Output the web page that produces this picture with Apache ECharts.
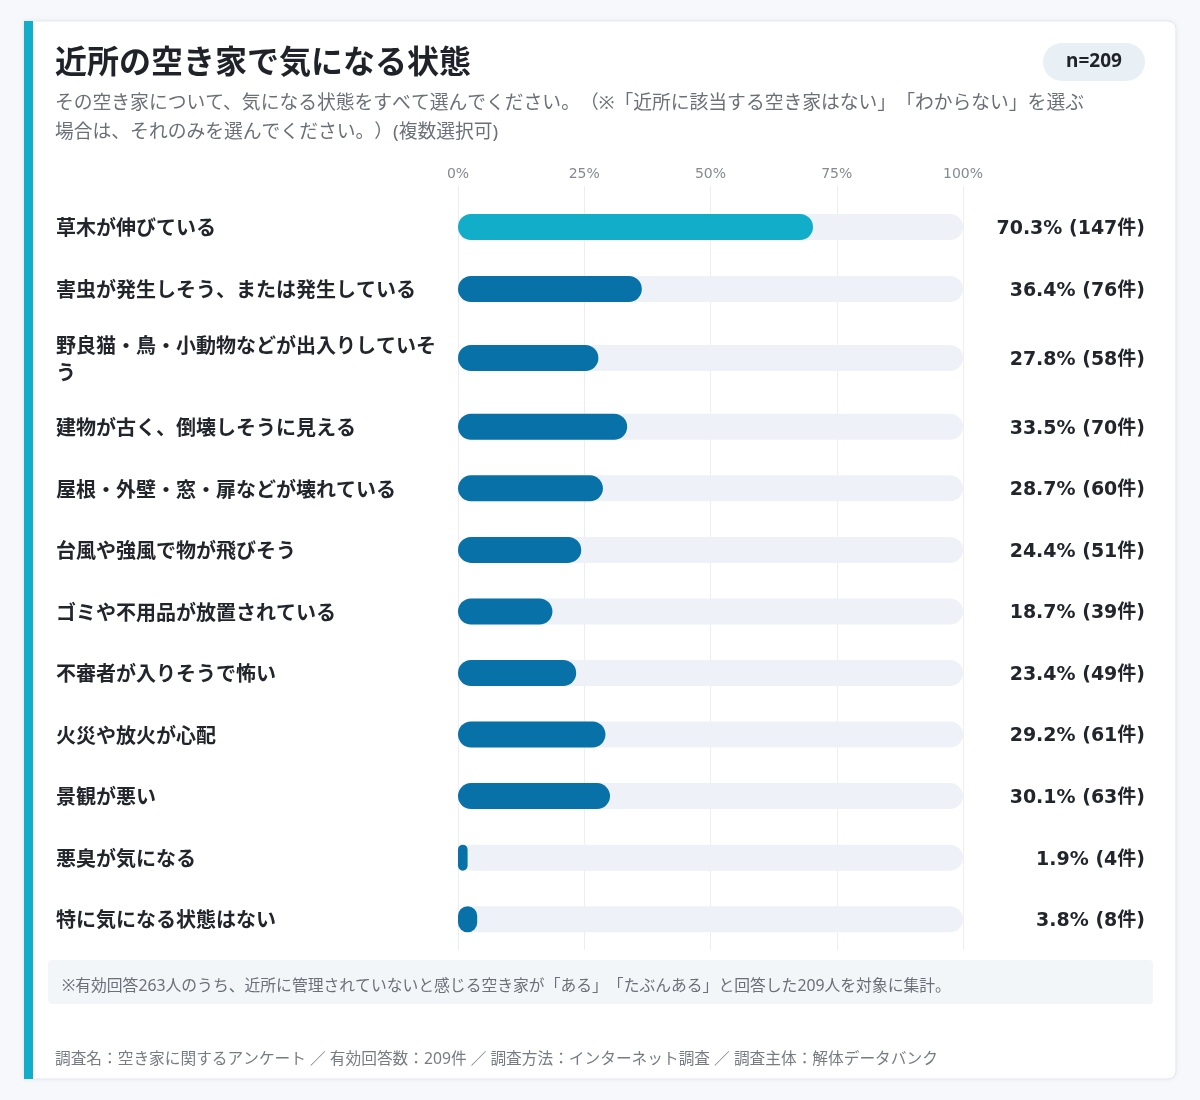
<!DOCTYPE html>
<html>
<head>
<meta charset="utf-8">
<script src="https://cdn.jsdelivr.net/npm/echarts@6/dist/echarts.min.js"></script>
<style>
	html, body { margin: 0; padding: 0; background: #f6f8fc; }
	#chart { width: 1200px; height: 1100px; }
</style>
</head>
<body>
<div id="chart"></div>
<script>
var categories = [ "草木が伸びている", "害虫が発生しそう、または発生している",
		"野良猫・鳥・小動物などが出入りしていそう", "建物が古く、倒壊しそうに見える",
		"屋根・外壁・窓・扉などが壊れている", "台風や強風で物が飛びそう",
		"ゴミや不用品が放置されている", "不審者が入りそうで怖い", "火災や放火が心配",
		"景観が悪い", "悪臭が気になる", "特に気になる状態はない" ];
var percents = [ 70.3, 36.4, 27.8, 33.5, 28.7, 24.4, 18.7, 23.4, 29.2, 30.1, 1.9, 3.8 ];
var counts = [ 147, 76, 58, 70, 60, 51, 39, 49, 61, 63, 4, 8 ];
var tickValues = [ 0, 25, 50, 75, 100 ];

(function() {
	var font = '"Noto Sans", "Noto Sans CJK JP", sans-serif';
	var numFont = '"DejaVu Sans", "Noto Sans CJK JP", sans-serif';
	var chart = echarts.init(document.getElementById('chart'));

	var valueLabels = percents.map(function(p, i) {
		return p.toFixed(1) + '% (' + counts[i] + '件)';
	});

	// the wrapped row is taller, so rows are split in three stacked grids
	var blocks = [ { from : 0, to : 2, top : 196, height : 124 },
			{ from : 2, to : 3, top : 320, height : 76 },
			{ from : 3, to : 12, top : 396, height : 554 } ];

	var grids = [], xAxes = [], yAxes = [], series = [];
	blocks.forEach(function(b, k) {
		grids.push({
			left : 458,
			right : 237,
			top : b.top,
			height : b.height
		});
		xAxes.push({
			type : 'value',
			gridIndex : k,
			position : 'top',
			min : tickValues[0],
			max : tickValues[tickValues.length - 1],
			interval : 25,
			axisLine : { show : false },
			axisTick : {
				show : k === 0,
				length : 10,
				lineStyle : { color : '#eceef2' }
			},
			axisLabel : {
				show : k === 0,
				formatter : '{value}%',
				fontFamily : numFont,
				color : '#858991',
				fontSize : 14,
				margin : 15
			},
			splitLine : {
				lineStyle : { color : '#eceef2', width : 1 }
			}
		});
		yAxes.push({
			type : 'category',
			gridIndex : k,
			inverse : true,
			data : categories.slice(b.from, b.to),
			axisLine : { show : false },
			axisTick : { show : false },
			axisLabel : {
				align : 'left',
				margin : 402,
				width : 390,
				overflow : 'break',
				formatter : '{c|{value}}',
				rich : {
					c : {
						fontFamily : font,
						fontSize : 20,
						lineHeight : 27,
						fontWeight : 'bold',
						color : '#22262c',
						padding : [ 5, 0, 0, 0 ]
					}
				}
			}
		}, {
			type : 'category',
			gridIndex : k,
			inverse : true,
			position : 'right',
			data : valueLabels.slice(b.from, b.to),
			axisLine : { show : false },
			axisTick : { show : false },
			axisLabel : {
				align : 'right',
				margin : 182,
				formatter : '{v|{value}}',
				rich : {
					v : {
						fontFamily : numFont,
						fontSize : 19,
						fontWeight : 'bold',
						color : '#22262c',
						padding : [ 4, 0, 0, 0 ]
					}
				}
			}
		});
		series.push({
			type : 'bar',
			xAxisIndex : k,
			yAxisIndex : k * 2,
			data : percents.slice(b.from, b.to),
			barWidth : 26,
			showBackground : true,
			backgroundStyle : {
				color : '#eef1f7',
				borderRadius : 13
			},
			itemStyle : {
				borderRadius : 13,
				color : function(p) {
					return (b.from + p.dataIndex) === 0 ? '#12adc8' : '#0872a8';
				}
			},
			silent : true
		});
	});

	// zero width space keeps adjacent full-width punctuation from being squeezed
	var sub = 'その空き家について、気になる状態をすべて選んでください。\u200b（\u200b※\u200b「近所に該当する空き家はない」\u200b「わからない」\u200bを選ぶ\n'
			+ '場合は、それのみを選んでください。\u200b）(複数選択可)';

	var option = {
		backgroundColor : '#f6f8fc',
		textStyle : {
			fontFamily : font
		},
		title : {
			text : '近所の空き家で気になる状態',
			subtext : sub,
			left : 55,
			top : 44,
			padding : 0,
			itemGap : 5,
			textStyle : {
				fontFamily : font,
				fontSize : 32,
				lineHeight : 40,
				fontWeight : 'bold',
				color : '#1f2329'
			},
			subtextStyle : {
				fontFamily : font,
				fontSize : 18.8,
				lineHeight : 29,
				color : '#6b7078'
			}
		},
		graphic : [ {
			type : 'rect',
			z : -10,
			shape : { x : 24, y : 21, width : 1152, height : 1058, r : [ 0, 8, 8, 0 ] },
			style : {
				fill : '#ffffff',
				stroke : '#e3e8ef',
				lineWidth : 1,
				shadowBlur : 6,
				shadowColor : 'rgba(0,0,0,0.05)'
			}
		}, {
			type : 'rect',
			z : -9,
			shape : { x : 24, y : 21, width : 9, height : 1058 },
			style : { fill : '#12adc8' }
		}, {
			type : 'rect',
			z : -9,
			shape : { x : 1043, y : 43, width : 102, height : 38, r : 19 },
			style : { fill : '#e8f0f5' }
		}, {
			type : 'text',
			x : 1094,
			y : 62,
			style : {
				text : 'n=209',
				fontFamily : font,
				fontSize : 19,
				fontWeight : 'bold',
				fill : '#1f2329',
				align : 'center',
				verticalAlign : 'middle'
			}
		}, {
			type : 'rect',
			z : -9,
			shape : { x : 48, y : 960, width : 1105, height : 44, r : 4 },
			style : { fill : '#f3f6f9' }
		}, {
			type : 'text',
			x : 62,
			y : 986,
			style : {
				text : '※有効回答263人のうち、近所に管理されていないと感じる空き家が「ある」\u200b「たぶんある」と回答した209人を対象に集計。',
				fontFamily : font,
				fontSize : 15.8,
				fill : '#6b7078',
				verticalAlign : 'middle'
			}
		}, {
			type : 'text',
			x : 55,
			y : 1060,
			style : {
				text : '調査名：空き家に関するアンケート ／ 有効回答数：209件 ／ 調査方法：インターネット調査 ／ 調査主体：解体データバンク',
				fontFamily : font,
				fontSize : 15.7,
				fill : '#777b82',
				verticalAlign : 'middle'
			}
		} ],
		grid : grids,
		xAxis : xAxes,
		yAxis : yAxes,
		series : series
	};
	chart.setOption(option);
})();
</script>
</body>
</html>
